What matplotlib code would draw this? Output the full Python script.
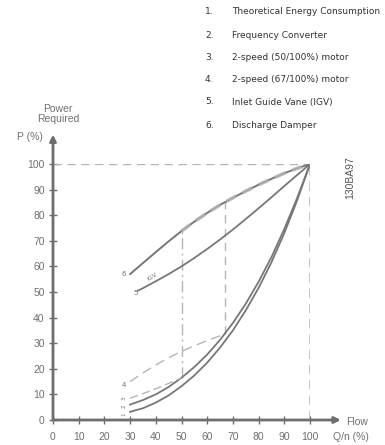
import matplotlib.pyplot as plt
import numpy as np

# flow (%) and power (%)
flow = [30, 35, 40, 45, 50, 55, 60, 65, 70, 75, 80, 85, 90, 95, 100]
p_theory = [3.2, 4.6, 6.8, 9.6, 13.2, 17.4, 22.4, 28.3, 35, 42.8, 51.6, 61.6, 73, 85.8, 100]
p_fc = [6, 7.8, 10, 12.9, 16.5, 20.7, 25.6, 31.3, 37.9, 45.4, 54, 63.6, 74.6, 86.7, 100]
p_damper = [57, 61.3, 65.6, 69.8, 73.8, 77.5, 80.9, 84, 86.8, 89.4, 91.9, 94.2, 96.4, 98.3, 100]

flow_igv = [33, 35, 40, 45, 50, 55, 60, 65, 70, 75, 80, 85, 90, 95, 100]
p_igv = [50.5, 51.5, 54.2, 57, 60, 63.3, 66.8, 70.5, 74.4, 78.5, 82.7, 87, 91.4, 95.7, 100]

flow_2s50 = [30, 35, 40, 45, 50]
p_2s50 = [8.5, 10.3, 12.2, 14.3, 16.5]

flow_2s67 = [30, 35, 40, 45, 50, 55, 60, 65, 67]
p_2s67 = [15, 18.4, 21.5, 24.3, 26.8, 29, 31, 32.9, 33.7]

legend_items = ["Theoretical Energy Consumption", "Frequency Converter",
                "2-speed (50/100%) motor", "2-speed (67/100%) motor",
                "Inlet Guide Vane (IGV)", "Discharge Damper"]

xticks = list(range(0, 101, 10))
yticks = list(range(0, 101, 10))

grey = "#777777"
light = "#b5b5b5"
axc = "#6e6e6e"
txt = "#707070"
sans = "Liberation Sans"

fig = plt.figure(figsize=(3.85, 4.45), dpi=100)
ax = fig.add_axes([53 / 385, 25 / 445, 257 / 385, 256 / 445])
ax.set_xlim(0, 100)
ax.set_ylim(0, 100)
for s in ax.spines.values():
    s.set_visible(False)

# reference lines
ax.plot([0, 100], [100, 100], color=light, lw=1, ls=(0, (6, 4)))
ax.plot([100, 100], [0, 100], color=light, lw=1.1, ls=(0, (6, 4)))
ax.plot([50, 50], [p_2s50[-1], np.interp(50, flow, p_damper)], color=light, lw=1,
        ls=(0, (8, 3, 1.5, 3)))
ax.plot([67, 67], [p_2s67[-1], np.interp(67, flow, p_damper)], color=light, lw=1,
        ls=(0, (6, 4)))

# curves
ax.plot(flow, p_theory, color=grey, lw=1.3)
ax.plot(flow, p_fc, color=grey, lw=1.3)
ax.plot(flow, p_damper, color=grey, lw=1.4)
ax.plot([f for f in flow if f >= 50], [p for f, p in zip(flow, p_damper) if f >= 50],
        color=light, lw=2.6, ls=(0, (3, 2)), alpha=0.8)
ax.plot(flow_igv, p_igv, color=grey, lw=1.3)
ax.plot(flow_2s50, p_2s50, color=light, lw=1, ls=(0, (6, 3)))
ax.plot(flow_2s67, p_2s67, color=light, lw=1, ls=(0, (7, 4)))

# curve labels
ax.text(27.5, 57, "6", fontsize=5, color=txt, ha="center", va="center")
ax.text(32, 49.5, "5", fontsize=5, color=txt, ha="center", va="center")
ax.text(38.5, 56, "IGV", fontsize=4.5, color=txt, ha="center", va="center", rotation=32)
ax.text(27.5, 13.5, "4", fontsize=5, color=txt, ha="center", va="center")
ax.text(27.5, 8.5, "3", fontsize=4, color=txt, ha="center", va="center", rotation=90)
ax.text(27.5, 5.5, "2", fontsize=4, color=txt, ha="center", va="center", rotation=90)
ax.text(27.5, 2.2, "1", fontsize=4, color=txt, ha="center", va="center", rotation=90)

# axes with arrows
ax.annotate("", xy=(112, 0), xytext=(0, 0), annotation_clip=False,
            arrowprops=dict(arrowstyle="-|>", color=axc, lw=2, mutation_scale=9,
                            shrinkA=0, shrinkB=0))
ax.annotate("", xy=(0, 111.5), xytext=(0, 0), annotation_clip=False,
            arrowprops=dict(arrowstyle="-|>", color=axc, lw=2, mutation_scale=9,
                            shrinkA=0, shrinkB=0))

ax.set_xticks(xticks)
ax.set_yticks(yticks)
ax.tick_params(direction="inout", length=6, width=1, color=axc, labelcolor=txt,
               labelsize=7.5, pad=3)
ax.tick_params(axis="x", pad=6)
for lab in ax.get_xticklabels() + ax.get_yticklabels():
    lab.set_family(sans)

fig.text(58 / 385, 1 - 114 / 445, "Power\nRequired", ha="center", va="center",
         fontsize=7.5, color=txt, family=sans, linespacing=1.0)
fig.text(30 / 385, 1 - 137 / 445, "P (%)", ha="center", va="center",
         fontsize=7.5, color=txt, family=sans)
fig.text(346 / 385, 1 - 422 / 445, "Flow", ha="left", va="center",
         fontsize=7.5, color=txt, family=sans)
fig.text(333 / 385, 1 - 437 / 445, "Q/n (%)", ha="left", va="center",
         fontsize=7.5, color=txt, family=sans)
fig.text(350 / 385, 1 - 178 / 445, "130BA97", ha="center", va="center",
         fontsize=7.5, color="#555555", family=sans, rotation=90)

# numbered list at the top right
rows = [12, 35, 57, 80, 102, 125]
for i, (name, y) in enumerate(zip(legend_items, rows)):
    fig.text(205 / 385, 1 - y / 445, f"{i + 1}.", ha="left", va="center",
             fontsize=6.5, color="#333333")
    fig.text(232 / 385, 1 - y / 445, name, ha="left", va="center",
             fontsize=6.5, color="#333333")

fig.savefig("out.png", dpi=100)
